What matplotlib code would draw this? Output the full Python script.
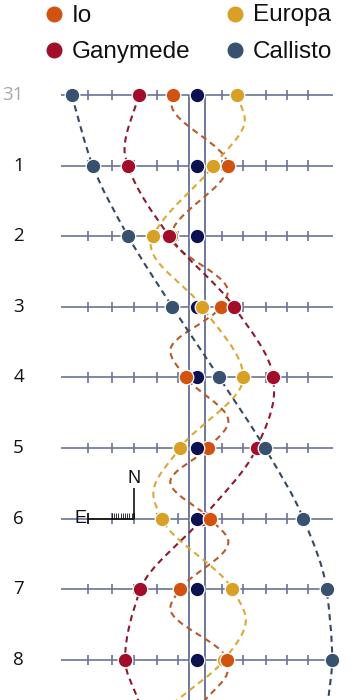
import numpy as np
import matplotlib
matplotlib.use("Agg")
import matplotlib.pyplot as plt
from matplotlib.path import Path
from matplotlib.patches import PathPatch

# dates shown down the left side (0 = 31st)
day_labels = ['31', '1', '2', '3', '4', '5', '6', '7', '8']
days = np.arange(len(day_labels))

# east-west offset of each moon from Jupiter at 0h of each date (Jupiter radii, right = west)
io_x = [-4.6, 6.0, -5.0, 4.6, -2.2, 2.1, 2.5, -3.3, 5.8]
europa_x = [7.7, 3.2, -8.5, 1.0, 9.0, -3.3, -6.9, 6.9, 5.3]
ganymede_x = [-11.3, -13.4, -5.4, 7.2, 14.8, 11.6, 1.0, -11.0, -14.0]
callisto_x = [-24.4, -20.3, -13.4, -4.8, 4.3, 13.2, 20.7, 25.2, 26.3]

# extra points read along the dashed tracks between the dates (day, offset)
io_track = [(0.12, -5.0), (2.78, 6.0), (3.62, -5.2), (4.62, 6.1), (5.48, -5.2),
            (6.33, 6.1), (7.27, -5.2), (8.14, 6.0), (8.58, 1.5)]
europa_track = [(0.35, 9.3), (2.12, -9.0), (5.64, -8.5), (7.44, 9.5), (8.58, -4.0)]
ganymede_track = [(0.78, -14.1), (4.2, 15.0), (8.58, -11.4)]
callisto_track = [(8.58, 25.5)]

# moons hidden behind Jupiter's disc on a given date
behind_jupiter = [(5, 'Io'), (6, 'Ganymede')]

scale_ticks = [-21.3, -16.6, -12.3, -7.8, -3.6, 4.8, 9.0, 13.4, 17.6, 21.5]

moons = {
    'Europa':   (europa_x,   europa_track,   '#d9a027', '#d8a938'),
    'Io':       (io_x,       io_track,       '#d2530f', '#b85a2c'),
    'Ganymede': (ganymede_x, ganymede_track, '#a20e2a', '#8c1a30'),
    'Callisto': (callisto_x, callisto_track, '#38516e', '#34485f'),
}
jupiter_color = '#0c1250'
line_color = '#6b7398'

PX_PER_RJ = 5.14
PX_PER_DAY = 70.6


def track_path(ts, xs):
    # monotone cubic through the read points, handed to matplotlib as bezier segments
    ts = np.asarray(ts, float)
    xs = np.asarray(xs, float)
    h = np.diff(ts)
    d = np.diff(xs) / h
    m = np.zeros_like(xs)
    m[0], m[-1] = d[0], d[-1]
    for k in range(1, len(xs) - 1):
        if d[k - 1] * d[k] > 0:
            w1 = 2 * h[k] + h[k - 1]
            w2 = h[k] + 2 * h[k - 1]
            m[k] = (w1 + w2) / (w1 / d[k - 1] + w2 / d[k])
    verts = [(xs[0], ts[0])]
    codes = [Path.MOVETO]
    for k in range(len(h)):
        verts += [(xs[k] + m[k] * h[k] / 3, ts[k] + h[k] / 3),
                  (xs[k + 1] - m[k + 1] * h[k] / 3, ts[k + 1] - h[k] / 3),
                  (xs[k + 1], ts[k + 1])]
        codes += [Path.CURVE4] * 3
    return Path(verts, codes)


fig = plt.figure(figsize=(3.62, 7.0), dpi=100)
ax = fig.add_axes([0, 0, 1, 1])
ax.axis('off')
ax.set_xlim(-197 / PX_PER_RJ, 165 / PX_PER_RJ)
ax.set_ylim((700 - 95) / PX_PER_DAY, -95 / PX_PER_DAY)

# date rows with scale ticks
ax.hlines(days, -26.4, 26.5, color=line_color, lw=1.2, zorder=1)
for t in days:
    ax.vlines(scale_ticks, t - 0.075, t + 0.075, color=line_color, lw=1.2, zorder=1)
    lab_color = '#a8a8a8' if t == 0 else '#111111'
    ax.text(-197 / PX_PER_RJ + 24 / PX_PER_RJ, t, day_labels[t], ha='right', va='center',
            fontsize=13.5, color=lab_color, family='Open Sans')

# Jupiter's limbs
ax.vlines([-1.5, 1.65], 0, 9, color='#56608c', lw=1.2, zorder=1.5)

# dashed tracks
for name, (xs, extra, col, dcol) in moons.items():
    pts = sorted(list(zip(days, xs)) + extra)
    p = track_path([a for a, b in pts], [b for a, b in pts])
    ax.add_patch(PathPatch(p, fill=False, edgecolor=dcol, lw=1.5,
                           linestyle=(0, (3.0, 2.2)), zorder=2))

# Jupiter and the moons
ax.plot(np.zeros(len(days)), days, 'o', ms=10.5, color=jupiter_color,
        mec='white', mew=0.9, zorder=4, linestyle='none')
for name, (xs, extra, col, dcol) in moons.items():
    for t in days:
        z = 3 if (t, name) in behind_jupiter else 5
        ax.plot(xs[t], t, 'o', ms=10.5, color=col, mec='white', mew=0.9, zorder=z)

# compass (east to the left, north up)
row = 6
ax.hlines(row, scale_ticks[0], scale_ticks[2], color='#111111', lw=1.2, zorder=2)
ax.vlines(scale_ticks[0], row - 0.08, row + 0.08, color='#111111', lw=1.2, zorder=2)
ax.vlines(scale_ticks[2], row - 0.43, row, color='#111111', lw=1.2, zorder=2)
ax.vlines(np.linspace(scale_ticks[1], scale_ticks[2], 11), row - 0.08, row,
          color='#111111', lw=0.6, zorder=2)
ax.text(scale_ticks[0] - 1.4, row, 'E', ha='center', va='center', fontsize=13,
        color='#111111', family='Liberation Sans')
ax.text(scale_ticks[2], row - 0.57, 'N', ha='center', va='center', fontsize=13,
        color='#111111', family='Liberation Sans')

# legend
legend_items = [('Io', 53.5, 13.5), ('Europa', 235, 13.5),
                ('Ganymede', 53.5, 50), ('Callisto', 235, 50)]
for name, px, py in legend_items:
    col = moons[name][2]
    ax.plot(px / 362, 1 - py / 700, 'o', ms=10.5, color=col, transform=ax.transAxes,
            clip_on=False)
    ax.text((px + 18) / 362, 1 - (py + 8) / 700, name, transform=ax.transAxes,
            ha='left', va='baseline', fontsize=17.5, color='#111111', family='Liberation Sans')

fig.savefig('out.png', dpi=100)
